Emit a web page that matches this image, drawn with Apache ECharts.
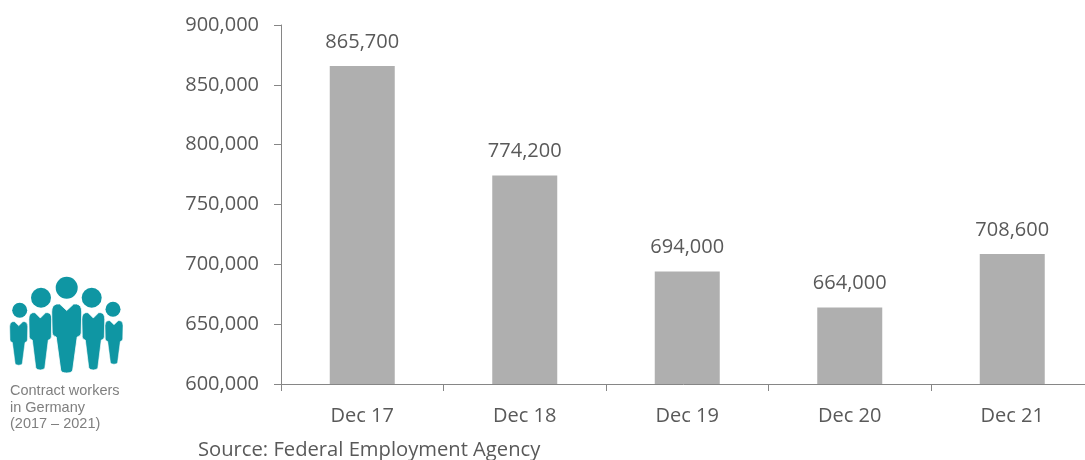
<!DOCTYPE html>
<html>
<head>
<meta charset="utf-8">
<style>
  html, body { margin: 0; padding: 0; background: #fff; }
  #chart { width: 1085px; height: 460px; }
</style>
<script src="https://cdn.jsdelivr.net/npm/echarts@6/dist/echarts.min.js"></script>
</head>
<body>
<div id="chart"></div>
<script>
// Contract workers in Germany, December headcount by year
const categories = ['Dec 17', 'Dec 18', 'Dec 19', 'Dec 20', 'Dec 21'];
const workers = [865700, 774200, 694000, 664000, 708600];
const yTicks = { min: 600000, max: 900000, interval: 50000 };
const sourceNote = 'Source: Federal Employment Agency';
const iconCaption = 'Contract workers\nin Germany\n(2017 – 2021)';

const FONT = '"Open Sans", sans-serif';
const TEXT = '#595959';
const AXIS = '#868686';
const TEAL = '#0f96a3';
const fmt = v => v.toLocaleString('en-US');

// Torso and legs of one figure, origin at the neck notch line
const bodyPath = 'M-7,0 L0,6.5 L7,0 L10,0 Q15,1 15,8 L14.5,29 Q14.5,32 10.5,33 ' +
  'L6,66 Q5.5,69 0,69 Q-5.5,69 -6,66 L-10.5,33 Q-14.5,32 -14.5,29 L-15,8 Q-15,1 -10,0 Z';
echarts.graphic.registerShape('personBody', echarts.graphic.extendPath(bodyPath, {}));

// Five figures: [head x, head y, head radius, body x, body top y, scale x, scale y]
const figures = [
  [19.7, 310.3, 7.5, 18.7, 321.7, 0.6, 0.63],
  [113, 309.3, 7.5, 114, 320.7, 0.6, 0.63],
  [41, 297.7, 10, 40.3, 312.7, 0.76, 0.83],
  [91.7, 297.7, 10, 93.3, 312.7, 0.76, 0.83],
  [66.7, 287.7, 11, 66.7, 304, 1, 1]
];

const icon = [];
figures.forEach(([hx, hy, r, bx, by, sx, sy]) => {
  icon.push({ type: 'circle', shape: { cx: hx, cy: hy, r }, style: { fill: TEAL }, silent: true });
  icon.push({
    type: 'personBody', x: bx, y: by, scaleX: sx, scaleY: sy,
    style: { fill: TEAL, stroke: '#ffffff', lineWidth: 0.8 }, silent: true
  });
});

const chart = echarts.init(document.getElementById('chart'), null, { renderer: 'canvas' });
chart.setOption({
  animation: false,
  backgroundColor: '#ffffff',
  grid: { left: 281, top: 25, width: 812.5, height: 359, outerBoundsMode: 'none' },
  xAxis: {
    type: 'category',
    data: categories,
    axisLine: { lineStyle: { color: AXIS, width: 1 } },
    axisTick: { show: true, length: 7, lineStyle: { color: AXIS } },
    axisLabel: { color: TEXT, fontFamily: FONT, fontSize: 20, margin: 22 }
  },
  yAxis: {
    type: 'value',
    min: yTicks.min,
    max: yTicks.max,
    interval: yTicks.interval,
    splitLine: { show: false },
    axisLine: { show: true, lineStyle: { color: AXIS, width: 1 } },
    axisTick: { show: true, length: 7, lineStyle: { color: AXIS } },
    axisLabel: { color: TEXT, fontFamily: FONT, fontSize: 20, margin: 22, formatter: fmt }
  },
  series: [{
    type: 'bar',
    data: workers,
    barWidth: 65,
    itemStyle: { color: '#afafaf' },
    label: {
      show: true,
      position: 'top',
      distance: 14,
      color: TEXT,
      fontFamily: FONT,
      fontSize: 20,
      formatter: p => fmt(p.value)
    }
  }],
  graphic: [
    ...icon,
    {
      type: 'text', left: 10, top: 383, silent: true,
      style: { text: iconCaption, fill: '#7f7f7f', font: '14.5px "Liberation Sans", Arial, sans-serif', lineHeight: 16.5 }
    },
    {
      type: 'text', left: 198, top: 440, silent: true,
      style: { text: sourceNote, fill: TEXT, font: '20.2px ' + FONT }
    }
  ]
});
</script>
</body>
</html>
